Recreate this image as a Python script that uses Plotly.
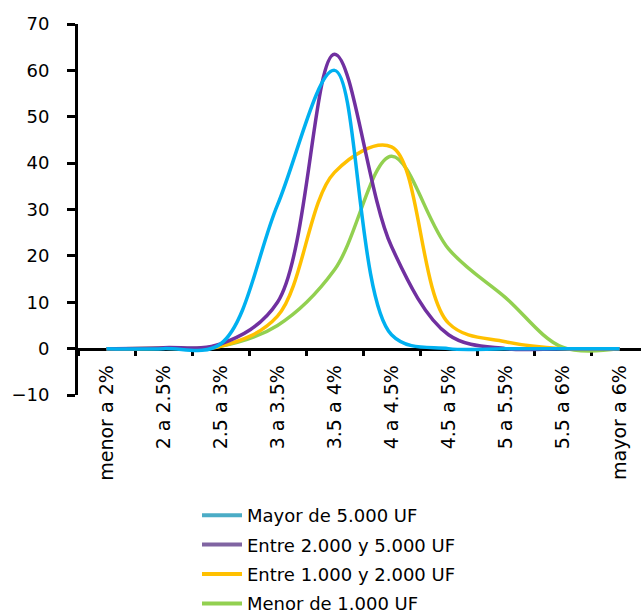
import plotly.graph_objects as go

# Rate brackets (x categories)
tramos = ["menor a 2%", "2 a 2.5%", "2.5 a 3%", "3 a 3.5%", "3.5 a 4%",
          "4 a 4.5%", "4.5 a 5%", "5 a 5.5%", "5.5 a 6%", "mayor a 6%"]

# Share of loans per bracket, by loan size
mayor_5000 = [0, 0, 1, 31, 60, 3, 0, 0, 0, 0]
entre_2000_5000 = [0, 0.2, 1, 10, 63.5, 22, 3, 0, 0, 0]
entre_1000_2000 = [0, 0.1, 0.5, 7, 38, 43.5, 5.5, 1.5, 0, 0]
menor_1000 = [0, 0.1, 0.5, 5, 17, 41.5, 21.5, 11, 0.3, 0]

series = [
    ("Mayor de 5.000 UF", mayor_5000, "#00B0F0", "#4BACC6"),
    ("Entre 2.000 y 5.000 UF", entre_2000_5000, "#7030A0", "#8064A2"),
    ("Entre 1.000 y 2.000 UF", entre_1000_2000, "#FFC000", "#FFC000"),
    ("Menor de 1.000 UF", menor_1000, "#92D050", "#92D050"),
]

FONT = "DejaVu Sans"
fig = go.Figure()

# Curves: smallest loans first so the blue curve ends up on top
for name, vals, color, _ in reversed(series):
    fig.add_trace(go.Scatter(
        x=tramos, y=vals, mode="lines", name=name, showlegend=False,
        line=dict(color=color, width=3.5, shape="spline", smoothing=1.0),
        hoverinfo="x+y+name",
    ))

# Legend entries (one group each so the rows get a little extra spacing)
for i, (name, _, _, lcolor) in enumerate(series):
    fig.add_trace(go.Scatter(
        x=[None], y=[None], mode="lines", name=name, legendgroup=f"g{i}",
        line=dict(color=lcolor, width=4),
    ))

fig.update_layout(
    width=641, height=614,
    margin=dict(l=78, r=0, t=24, b=219, autoexpand=False),
    paper_bgcolor="white", plot_bgcolor="white",
    font=dict(family=FONT, color="black"),
    xaxis=dict(
        type="category", categoryorder="array", categoryarray=tramos,
        range=[-0.5, 9.377], anchor="free", position=0.125,
        showline=True, linecolor="black", linewidth=3, layer="below traces",
        ticks="outside", tickson="boundaries", ticklen=5, tickwidth=3,
        tickcolor="black", tickangle=-90, tickfont=dict(size=19, family=FONT),
        showgrid=False, zeroline=False, ticklabelstandoff=7,
    ),
    yaxis=dict(
        range=[-10, 70], dtick=10, tick0=0,
        showline=True, linecolor="black", linewidth=3,
        ticks="outside", ticklen=8, tickwidth=2.5, tickcolor="black",
        tickfont=dict(size=18, family=FONT),
        showgrid=False, zeroline=False, ticklabelstandoff=14,
    ),
    legend=dict(
        x=(197 - 78) / 563, y=(395 - 497) / 371,
        xanchor="left", yanchor="top",
        font=dict(size=18, family=FONT), itemwidth=40,
        tracegroupgap=3, traceorder="grouped",
        bgcolor="rgba(0,0,0,0)",
    ),
)

fig.write_html("out.html")
